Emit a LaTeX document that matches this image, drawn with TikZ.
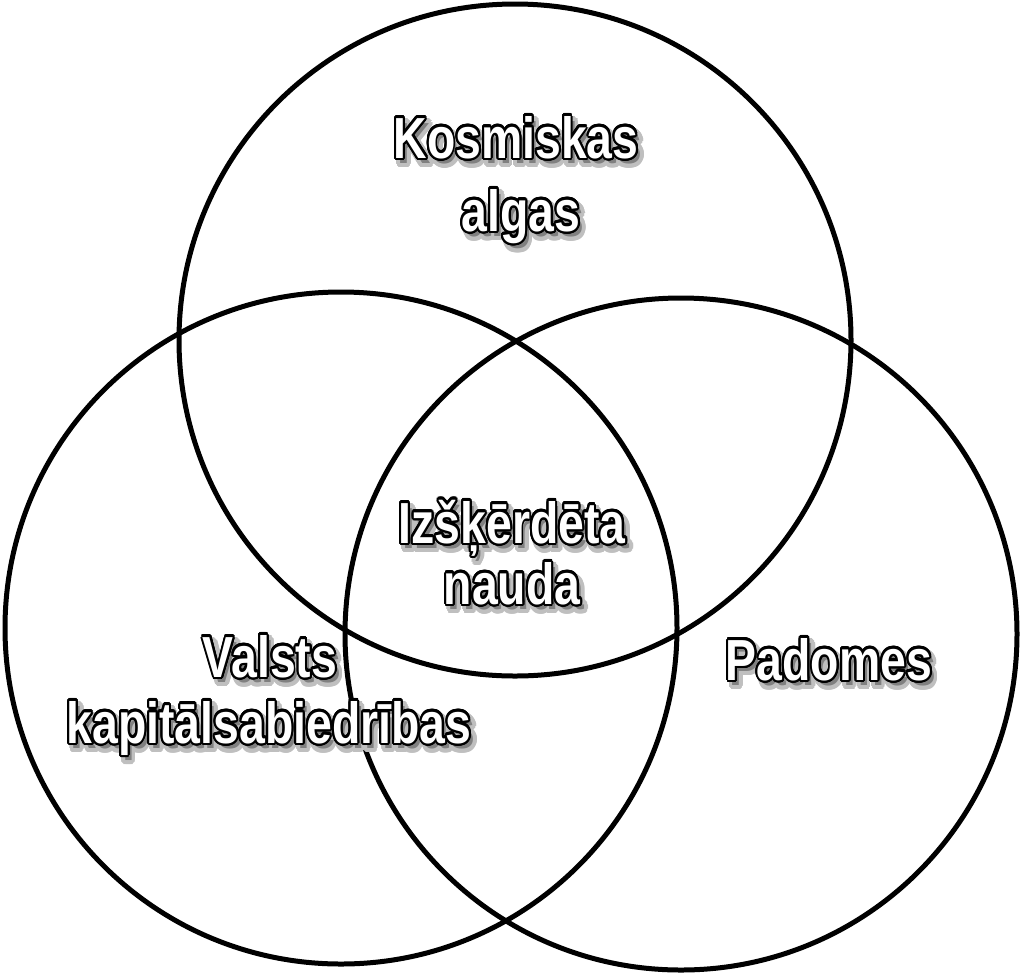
\documentclass[tikz,border=0pt]{standalone}
\usepackage{fontspec}
\setmainfont{Liberation Sans}
\usepackage[copies]{contour}
\contourlength{1.4pt}
\contournumber{24}
% white label with black outline and a soft shadow, squeezed sideways
\newcommand{\vennword}[1]{\scalebox{0.8}[1]{\makebox[0pt][l]{\hspace{2.8pt}\raisebox{-3pt}{\color{black!50}\contourlength{2.6pt}\contour{black!25}{#1}}}\contour{black}{#1}}}
\tikzset{
  ring/.style={draw, line width=0.1cm},
  word/.style={font=\fontsize{33}{40}\selectfont\bfseries, text=white, inner sep=0pt, anchor=base}
}
\begin{document}
\begin{tikzpicture}[x=0.02cm, y=-0.02cm]
\useasboundingbox (0,0) rectangle (1024,978);
\draw[ring] (515,340) circle[radius=336];
\draw[ring] (341,628) circle[radius=336];
\draw[ring] (681,634) circle[radius=336];
\node[word] (kosm) at (516,158) {\vennword{Kosmiskas}};
\node[word] (alg) at (521,231) {\vennword{algas}};
\node[word] (izs) at (512,543) {\vennword{Izšķērdēta}};
\node[word] (nau) at (512,604) {\vennword{nauda}};
\node[word] (val) at (270,677) {\vennword{Valsts}};
\node[word] (kap) at (269,743) {\vennword{kapitālsabiedrības}};
\node[word] (pad) at (829,680) {\vennword{Padomes}};
\end{tikzpicture}
\end{document}
